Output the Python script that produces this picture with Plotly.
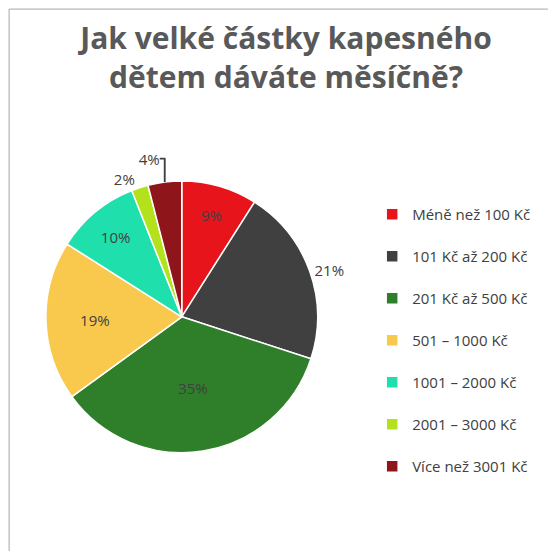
import plotly.graph_objects as go

categories = ["Méně než 100 Kč", "101 Kč až 200 Kč", "201 Kč až 500 Kč", "501 – 1000 Kč",
              "1001 – 2000 Kč", "2001 – 3000 Kč", "Více než 3001 Kč"]
shares = [9, 21, 35, 19, 10, 2, 4]
colors = ["#e8141c", "#404040", "#2f7f2a", "#f9c94e", "#1fe0ad", "#b3e21c", "#8e1519"]
positions = ["inside", "outside", "inside", "inside", "inside", "outside", "outside"]

fig = go.Figure(go.Pie(
    labels=[c + "<br> " for c in categories],
    values=shares,
    marker=dict(colors=colors, line=dict(color="white", width=1.5)),
    sort=False,
    direction="clockwise",
    rotation=0,
    textinfo="percent",
    texttemplate="%{percent:.0%}",
    textposition=positions,
    insidetextorientation="horizontal",
    textfont=dict(family="Open Sans, DejaVu Sans", size=15, color="#404040"),
    hoverinfo="label+percent",
    domain=dict(x=[0.068, 0.557], y=[0.193, 0.686]),
))

fig.update_layout(
    width=556, height=551,
    paper_bgcolor="white",
    margin=dict(l=0, r=0, t=0, b=0),
    title=dict(
        text="<b>Jak velké částky kapesného<br>dětem dáváte měsíčně?</b>",
        x=0.5, xanchor="center", y=0.925, yanchor="top",
        font=dict(family="Open Sans, DejaVu Sans", size=30, color="#595959"),
    ),
    legend=dict(
        x=0.655, y=0.655, xanchor="left", yanchor="top",
        font=dict(family="Open Sans, DejaVu Sans", size=15, color="#404040"),
        valign="top", tracegroupgap=0,
    ),
    shapes=[dict(type="rect", xref="paper", yref="paper", x0=0.002, y0=0.002, x1=0.998, y1=0.998,
                 line=dict(color="#a6a6a6", width=1))],
)

fig.write_html("out.html")
